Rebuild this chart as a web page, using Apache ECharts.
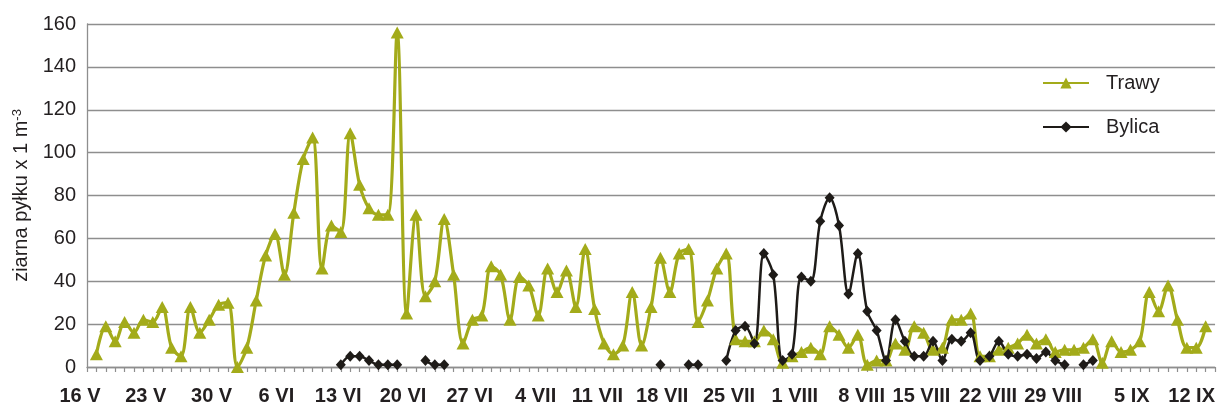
<!DOCTYPE html>
<html>
<head>
<meta charset="utf-8">
<script src="https://cdn.jsdelivr.net/npm/echarts@6/dist/echarts.min.js"></script>
<style>html,body{margin:0;padding:0;background:#fff}#c{width:1218px;height:406px}</style>
</head>
<body>
<div id="c"></div>
<script>
// ---- data ----
const months = [['V', 16, 31], ['VI', 1, 30], ['VII', 1, 31], ['VIII', 1, 31], ['IX', 1, 13]];
const categories = [];
months.forEach(([m, a, b]) => { for (let d = a; d <= b; d++) categories.push(d + ' ' + m); });

const tickLabels = ['16 V','23 V','30 V','6 VI','13 VI','20 VI','27 VI','4 VII','11 VII','18 VII','25 VII','1 VIII','8 VIII','15 VIII','22 VIII','29 VIII','5 IX','12 IX'];

const trawy = [null,
  6,19,12,21,16,22,21,28,9,5,
  28,16,22,29,30,0,9,31,52,62,
  43,72,97,107,46,66,63,109,85,74,
  71,71,156,25,71,33,40,69,43,11,
  22,24,47,43,22,42,38,24,46,35,
  45,28,55,27,11,6,10,35,10,28,
  51,35,53,55,21,31,46,53,13,12,
  12,17,13,2,5,7,9,6,19,15,
  9,15,1,3,3,11,8,19,16,8,
  9,22,22,25,5,5,8,9,11,15,
  11,13,7,8,8,9,13,2,12,7,
  8,12,35,26,38,22,9,9,19,
  null];

const bylica = [
  null,null,null,null,null,null,null,null,null,null,
  null,null,null,null,null,null,null,null,null,null,
  null,null,null,null,null,null,null,1,5,5,
  3,1,1,1,null,null,3,1,1,null,
  null,null,null,null,null,null,null,null,null,null,
  null,null,null,null,null,null,null,null,null,null,
  null,1,null,null,1,1,null,null,3,17,
  19,11,53,43,3,6,42,40,68,79,
  66,34,53,26,17,3,22,12,5,5,
  12,3,13,12,16,3,5,12,6,5,
  6,4,7,3,1,null,1,3,null,null,
  null,null,null,null,null,null,null,null,null,null,
  null];

// ---- styling ----
const labelShift = [7,7,7,8,12,13,12,12,16,17,16,16,15,21,20,21,8,14];
const xFont = {fontFamily: '"Liberation Sans Narrow","Arial Narrow","Liberation Sans",Arial,sans-serif', fontWeight: 'bold', fontSize: 20, color: '#231f20'};
const rich = {};
labelShift.forEach((s, i) => { rich['p' + i] = Object.assign({padding: [0, 2 * s, 0, 0]}, xFont); });

const GREEN = '#a3ab1a';
const BLACK = '#1e1b18';
const GRID = '#8e8e8e';

const chart = echarts.init(document.getElementById('c'), null, {renderer: 'canvas'});
chart.setOption({
  animation: false,
  backgroundColor: '#fff',
  grid: {left: 87, top: 24, width: 1133, height: 343, containLabel: false},
  legend: {
    orient: 'vertical', left: 1042, top: 73, padding: 0, itemWidth: 46, itemHeight: 14, itemGap: 24,
    textStyle: {fontFamily: '"Liberation Sans",Arial,sans-serif', fontSize: 20, color: '#231f20', padding: [0, 0, 0, 12]},
    data: ['Trawy', 'Bylica']
  },
  xAxis: {
    type: 'category', data: categories, boundaryGap: false,
    axisLine: {lineStyle: {color: GRID, width: 1.3}},
    axisTick: {show: true, interval: 0, length: 5, lineStyle: {color: GRID, width: 1.2}},
    axisLabel: {
      interval: (idx, val) => tickLabels.indexOf(val) >= 0,
      margin: 19,
      formatter: (val) => { const i = tickLabels.indexOf(val); return '{p' + i + '|' + val + '}'; },
      rich: rich
    },
    splitLine: {show: false}
  },
  yAxis: {
    type: 'value', min: 0, max: 160, interval: 20,
    name: 'ziarna pyłku x 1 m{s|-3}', nameLocation: 'middle', nameGap: 56,
    nameTextStyle: {
      fontFamily: '"Liberation Sans",Arial,sans-serif', fontSize: 20, color: '#231f20',
      rich: {s: {fontFamily: '"Liberation Sans",Arial,sans-serif', fontSize: 13, color: '#231f20', verticalAlign: 'top', padding: [0, 0, 7, 0]}}
    },
    axisLine: {show: true, lineStyle: {color: GRID, width: 1.3}},
    axisTick: {show: false},
    axisLabel: {fontFamily: '"Liberation Sans",Arial,sans-serif', fontSize: 20, color: '#231f20', margin: 11},
    splitLine: {lineStyle: {color: GRID, width: 1.3}}
  },
  series: [
    {
      name: 'Trawy', type: 'line', data: trawy, smooth: 0.33, connectNulls: false,
      symbol: 'triangle', symbolSize: [13, 12], showSymbol: true, showAllSymbol: true,
      lineStyle: {color: GREEN, width: 3.2}, itemStyle: {color: GREEN}
    },
    {
      name: 'Bylica', type: 'line', data: bylica, smooth: 0.33, connectNulls: false,
      symbol: 'diamond', symbolSize: [10, 11], showSymbol: true, showAllSymbol: true,
      lineStyle: {color: BLACK, width: 2.5}, itemStyle: {color: BLACK}
    }
  ]
});
</script>
</body>
</html>
